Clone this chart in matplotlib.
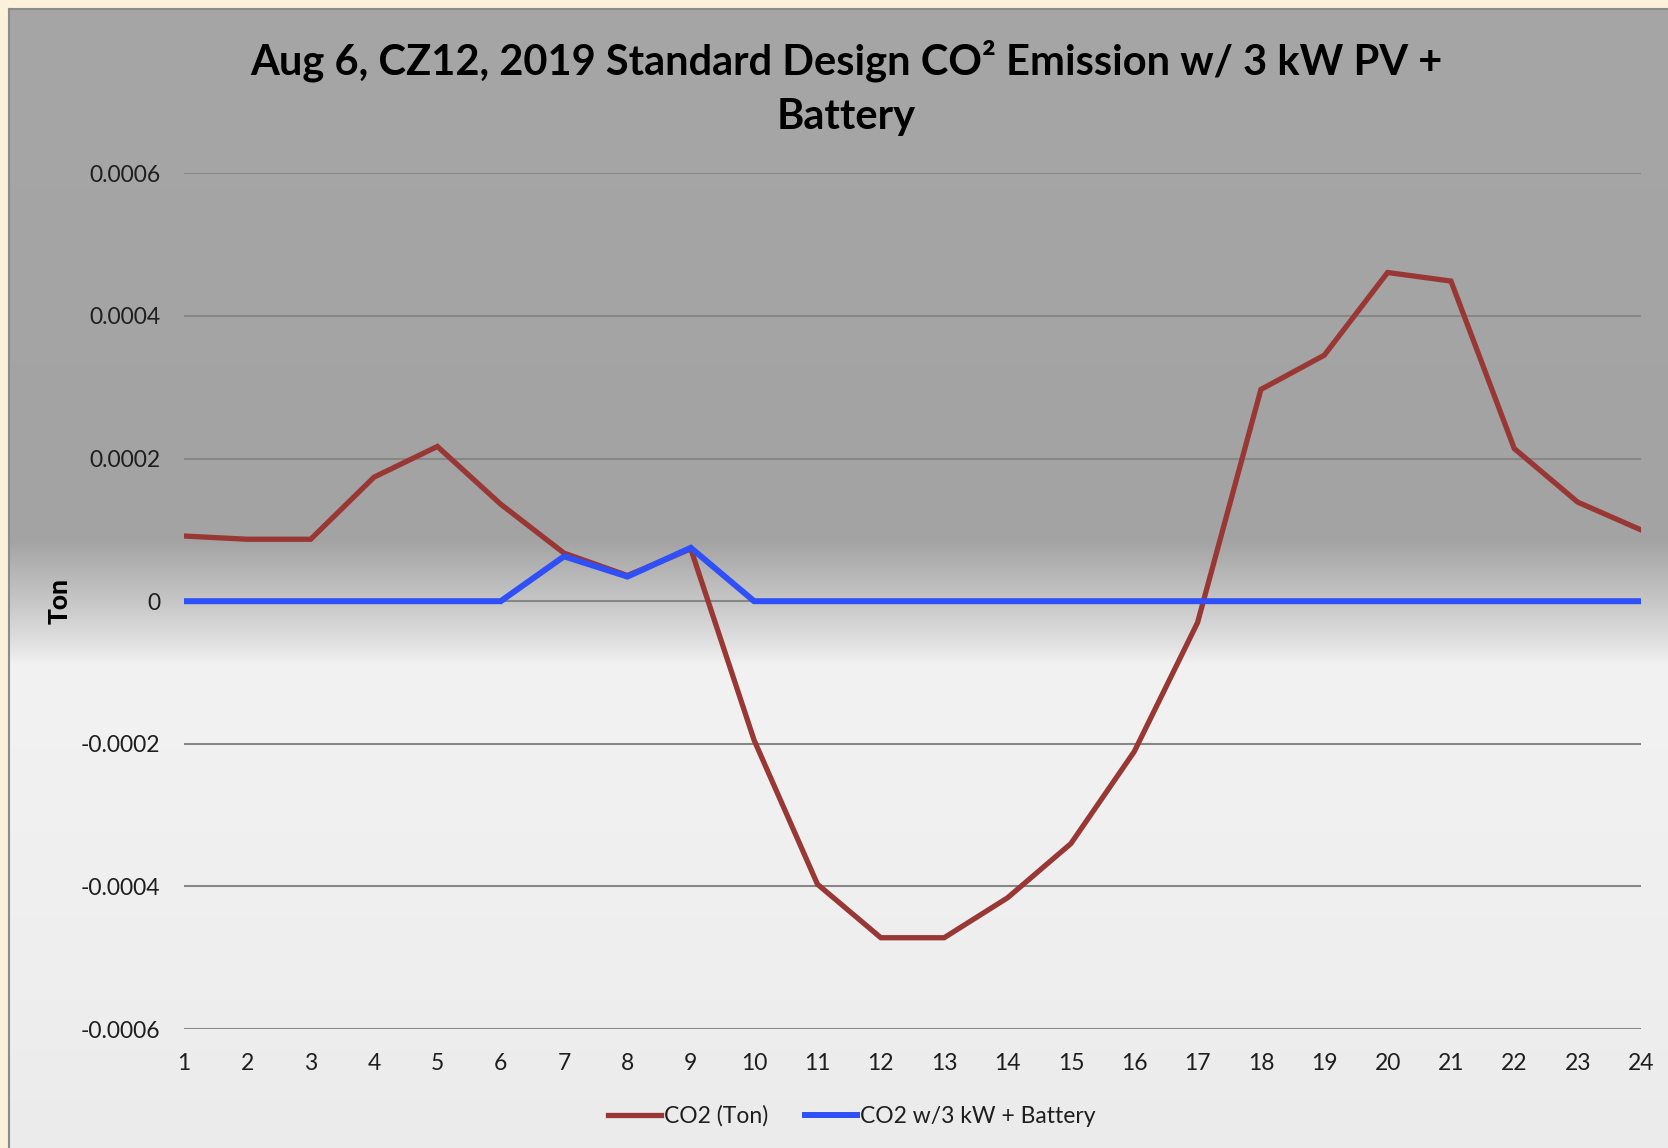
import numpy as np
import matplotlib.pyplot as plt
from matplotlib.colors import to_rgb

plt.rcParams['font.family'] = ['Lato', 'DejaVu Sans']

# hourly data, Aug 6, CZ12
hours = list(range(1, 25))
co2_ton = [0.0000914, 0.0000869, 0.0000869, 0.000174, 0.000217, 0.000136,
           0.0000674, 0.000036, 0.0000734, -0.000195, -0.000397, -0.000472,
           -0.000472, -0.000416, -0.00034, -0.000211, -0.00003, 0.000297,
           0.000345, 0.000461, 0.000449, 0.000214, 0.000139, 0.0001]
co2_pv_batt = [0, 0, 0, 0, 0, 0,
               0.0000629, 0.0000345, 0.0000749, 0, 0, 0,
               0, 0, 0, 0, 0, 0,
               0, 0, 0, 0, 0, 0]
ytick_vals = [-0.0006, -0.0004, -0.0002, 0, 0.0002, 0.0004, 0.0006]
ytick_labels = ['-0.0006', '-0.0004', '-0.0002', '0', '0.0002', '0.0004', '0.0006']

W, H = 1668, 1148
fig = plt.figure(figsize=(W / 100, H / 100), dpi=100)
fig.patch.set_facecolor('#fbf0da')

# chart area with the excel style vertical gradient
x0, y0 = 9, 9
bg = fig.add_axes([x0 / W, 0, 1 - x0 / W, 1 - y0 / H])
stops_y = [9, 540, 600, 645, 665, 1000, 1148]
stops_c = ['#a6a6a6', '#a3a3a3', '#c6c6c6', '#e2e2e2', '#f2f2f2', '#eeeeee', '#ebebeb']
rows = np.arange(y0, H)
cols = np.array([to_rgb(c) for c in stops_c])
grad = np.stack([np.interp(rows, stops_y, cols[:, k]) for k in range(3)], axis=-1)
bg.imshow(grad[:, None, :], aspect='auto', extent=[0, 1, 0, 1], interpolation='bilinear')
bg.set_xticks([])
bg.set_yticks([])
for side in ['top', 'left']:
    bg.spines[side].set_color('#8c8c8c')
    bg.spines[side].set_linewidth(1.5)
for side in ['right', 'bottom']:
    bg.spines[side].set_visible(False)

# plot area
left, right, top, bottom = 184, 1641, 173.4, 1029
ax = fig.add_axes([left / W, 1 - bottom / H, (right - left) / W, (bottom - top) / H])
ax.patch.set_alpha(0)
ax.set_xlim(1, 24)
ax.set_ylim(-0.0006, 0.0006)
ax.set_yticks(ytick_vals, ytick_labels)
ax.set_xticks(hours, [str(h) for h in hours])
ax.tick_params(length=0, labelsize=16.5, colors='#1e1e1e')
ax.tick_params(axis='y', pad=17)
ax.tick_params(axis='x', pad=17)
for s in ax.spines.values():
    s.set_visible(False)
ax.grid(axis='y', color='#878787', linewidth=1.5)
ax.set_axisbelow(True)

ax.plot(hours, co2_ton, color='#993735', lw=3.8, label='CO2 (Ton)', solid_joinstyle='miter')
ax.plot(hours, co2_pv_batt, color='#2f4ff8', lw=4.3, label='CO2 w/3 kW + Battery', solid_joinstyle='miter')

ax.set_ylabel('Ton', fontsize=19, fontweight='black', color='#000000')
ax.yaxis.set_label_coords((72 - left) / (right - left), 0.5)

fig.text(846 / W, 1 - 88 / H, 'Aug 6, CZ12, 2019 Standard Design CO\u00b2 Emission w/ 3 kW PV +\nBattery',
         ha='center', va='center', fontsize=30, fontweight='bold', color='#000000', linespacing=1.5)

leg = ax.legend(loc='center', bbox_to_anchor=(852 / W, 1 - 1116 / H), bbox_transform=fig.transFigure,
                ncol=2, frameon=False, fontsize=16.5, handlelength=2.3, handletextpad=0.12,
                columnspacing=1.6)
for t in leg.get_texts():
    t.set_color('#1e1e1e')

fig.savefig('out.png', dpi=100)
